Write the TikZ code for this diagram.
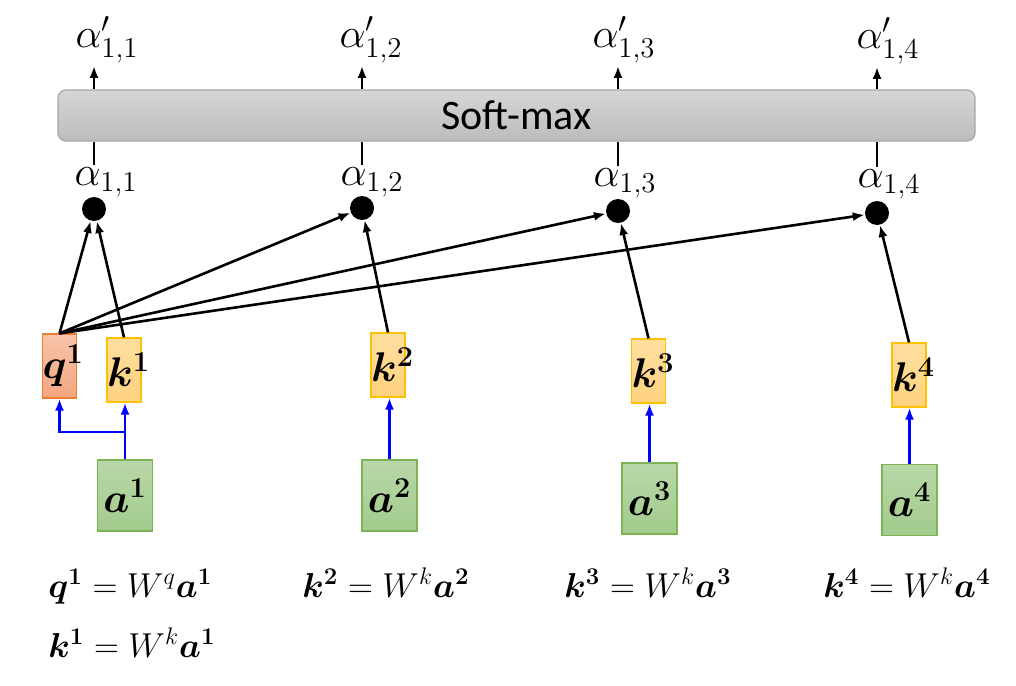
\documentclass[tikz,border=0pt]{standalone}
\usepackage{amsmath,bm}
\usepackage{fontspec}
\setsansfont{Carlito}
\usetikzlibrary{arrows.meta,positioning,calc}
\definecolor{qtop}{HTML}{F8C3A8}
\definecolor{qbot}{HTML}{F4A680}
\definecolor{qline}{HTML}{ED7D31}
\definecolor{ktop}{HTML}{FFDFA0}
\definecolor{kbot}{HTML}{FFD27E}
\definecolor{kline}{HTML}{FFC000}
\definecolor{atop}{HTML}{B8D8A8}
\definecolor{abot}{HTML}{A2CB8C}
\definecolor{aline}{HTML}{7DB255}
\definecolor{smtop}{HTML}{D6D6D6}
\definecolor{smbot}{HTML}{BCBCBC}
\definecolor{smline}{HTML}{A6A6A6}

\begin{document}
\begin{tikzpicture}[x=0.5pt,y=-0.5pt,
  lab/.style={font=\fontsize{19.5}{22}\selectfont,inner sep=1pt},
  vec/.style={draw,line width=0.6pt,text width=17pt,align=center,minimum height=32pt,inner sep=0pt,font=\fontsize{19.5}{23}\selectfont},
  qbox/.style={vec,draw=qline,top color=qtop,bottom color=qbot},
  kbox/.style={vec,draw=kline,top color=ktop,bottom color=kbot},
  abox/.style={vec,draw=aline,top color=atop,bottom color=abot,text width=27.5pt,minimum height=35.5pt},
  dot/.style={circle,fill=black,inner sep=0pt,minimum size=12pt},
  arr/.style={-{Latex[length=6pt,width=4.5pt]},line width=1.3pt},
  feed/.style={-{Latex[length=6pt,width=4.5pt]},line width=1.4pt,blue},
  eq/.style={font=\fontsize{18}{21}\selectfont,anchor=base west,inner sep=0pt}]
\useasboundingbox (0,0) rectangle (1016,685);
\node[draw=smline,line width=0.6pt,rounded corners=4pt,top color=smtop,bottom color=smbot,
  minimum width=458.5pt,minimum height=25.5pt,font=\sffamily\fontsize{21}{25}\selectfont] (sm) at (516.5,115.5) {Soft-max};
\node[dot] (d1) at (94,209) {};
\node[dot] (d2) at (362,208) {};
\node[dot] (d3) at (618,211) {};
\node[dot] (d4) at (877,213) {};
\node[lab] (l1) at (106,182) {$\alpha_{1,1}$};
\node[lab] (l2) at (372,182) {$\alpha_{1,2}$};
\node[lab] (l3) at (625,183) {$\alpha_{1,3}$};
\node[lab] (l4) at (889,184) {$\alpha_{1,4}$};
\node[lab] (p1) at (107,40) {$\alpha'_{1,1}$};
\node[lab] (p2) at (371,40) {$\alpha'_{1,2}$};
\node[lab] (p3) at (624,40) {$\alpha'_{1,3}$};
\node[lab] (p4) at (888,41) {$\alpha'_{1,4}$};
\foreach \i in {1,...,4}{
  \draw[line width=1.3pt] (d\i |- l\i.north) -- (d\i |- sm.south);
  \draw[arr] (d\i |- sm.north) -- (d\i |- p\i.south);
}
\node[qbox] (q1) at (59.5,366) {$\bm{q}^{\bm{1}}$};
\node[kbox] (k1) at (124,370) {$\bm{k}^{\bm{1}}$};
\node[kbox] (k2) at (388,365) {$\bm{k}^{\bm{2}}$};
\node[kbox] (k3) at (648.5,371) {$\bm{k}^{\bm{3}}$};
\node[kbox] (k4) at (909,375) {$\bm{k}^{\bm{4}}$};
\node[abox] (a1) at (125,495.5) {$\bm{a}^{\bm{1}}$};
\node[abox] (a2) at (389.5,495.5) {$\bm{a}^{\bm{2}}$};
\node[abox] (a3) at (649.5,498.5) {$\bm{a}^{\bm{3}}$};
\node[abox] (a4) at (909.5,500) {$\bm{a}^{\bm{4}}$};
\foreach \i in {1,...,4}{
  \draw[arr] (q1.north) -- (d\i);
  \draw[arr] (k\i.north) -- (d\i);
  \draw[feed] (a\i.north) -- (a\i.north |- k\i.south);
}
\coordinate (fork) at (125,432);
\draw[feed] (fork) -| (q1.south);
\node[eq] (e1) at (48,597) {$\bm{q}^{\bm{1}}=W^q\bm{a}^{\bm{1}}$};
\node[eq] (e2) at (48,657) {$\bm{k}^{\bm{1}}=W^k\bm{a}^{\bm{1}}$};
\node[eq] (e3) at (302,597) {$\bm{k}^{\bm{2}}=W^k\bm{a}^{\bm{2}}$};
\node[eq] (e4) at (564,597) {$\bm{k}^{\bm{3}}=W^k\bm{a}^{\bm{3}}$};
\node[eq] (e5) at (823,597) {$\bm{k}^{\bm{4}}=W^k\bm{a}^{\bm{4}}$};
\end{tikzpicture}
\end{document}
